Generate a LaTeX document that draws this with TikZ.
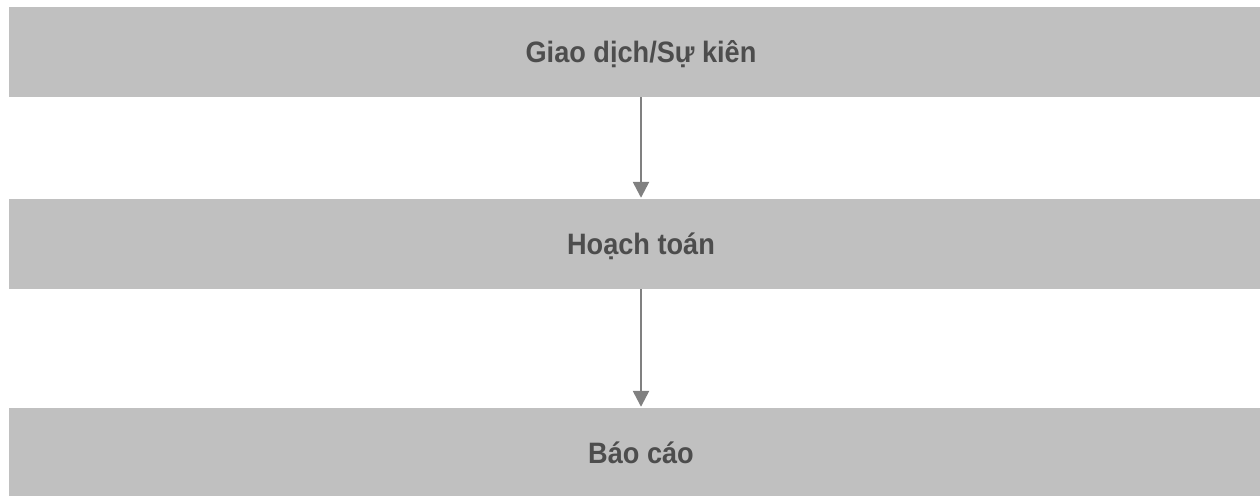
\documentclass[tikz,border=0pt]{standalone}
\usepackage{fontspec}
\setmainfont{Liberation Sans}[FakeStretch=0.92]
\usetikzlibrary{arrows.meta}
\definecolor{boxfill}{HTML}{C0C0C0}
\definecolor{arrcol}{HTML}{808080}
\definecolor{txtcol}{HTML}{4D4D4D}
\tikzset{
  stagebox/.style={fill=boxfill, draw=none, inner sep=0pt, minimum width=1264pt, minimum height=90pt,
    text height=21pt, text depth=0pt,
    text=txtcol, font=\fontsize{29.5}{35}\selectfont\bfseries},
  flowarrow/.style={draw=arrcol, line width=2.5pt, -{Triangle[width=16pt,length=16pt]}, shorten >=1pt}
}
\begin{document}
\begin{tikzpicture}[x=1pt,y=-1pt]
\useasboundingbox (0,0) rectangle (1260,495);
\clip (0,0) rectangle (1260,495);
\node[stagebox] (a) at (641,52) {Giao dịch/Sự kiên};
\node[stagebox] (b) at (641,244) {Hoạch toán};
\node[stagebox] (c) at (641,453) {Báo cáo};
\draw[flowarrow] (a.south) -- (b.north);
\draw[flowarrow] (b.south) -- (c.north);
\end{tikzpicture}
\end{document}
